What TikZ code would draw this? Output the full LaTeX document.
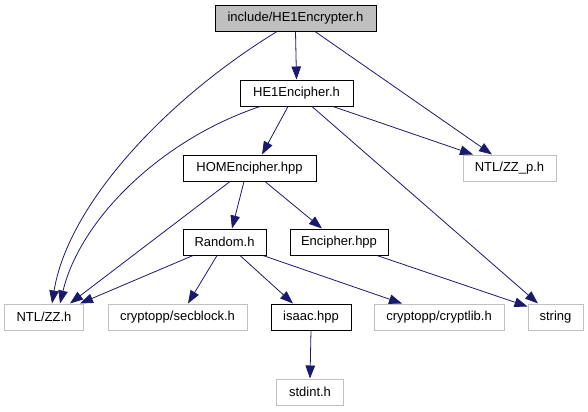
\documentclass[tikz,border=0pt]{standalone}
\usepackage{fontspec}
\setmainfont{Liberation Sans}
\usetikzlibrary{arrows.meta}
\definecolor{edgeblue}{HTML}{191970}
\definecolor{boxgrey}{HTML}{BFBFBF}
\tikzset{
  header/.style={draw=black, line width=1bp, fill=white, inner sep=0pt,
    minimum height=26bp, font=\fontsize{13bp}{15bp}\selectfont},
  current/.style={header, fill=boxgrey},
  sysheader/.style={header, draw=boxgrey},
  incl/.style={draw=edgeblue, line width=0.8bp,
    -{Triangle[length=13bp,width=9.5bp]}}
}
\begin{document}
\begin{tikzpicture}[x=1bp, y=-1bp]
    \useasboundingbox (0,0) rectangle (588,411);
    % row 1
    \node[current, minimum width=161bp] (enc) at (295.5,18) {include/HE1Encrypter.h};
    % row 2
    \node[header, minimum width=113bp] (encipher) at (296.5,93) {HE1Encipher.h};
    % row 3
    \node[header, minimum width=133bp] (hom) at (249.5,168) {HOMEncipher.hpp};
    \node[sysheader, minimum width=93bp] (zzp) at (509.5,168) {NTL/ZZ\_p.h};
    % row 4
    \node[header, minimum width=83bp] (random) at (224.5,242) {Random.h};
    \node[header, minimum width=98bp] (cipherhpp) at (339,242) {Encipher.hpp};
    % row 5
    \node[sysheader, minimum width=78bp] (zz) at (44,317) {NTL/ZZ.h};
    \node[sysheader, minimum width=139bp] (secblock) at (177.5,317) {cryptopp/secblock.h};
    \node[header, minimum width=80bp] (isaac) at (311,317) {isaac.hpp};
    \node[sysheader, minimum width=130bp] (cryptlib) at (439,317) {cryptopp/cryptlib.h};
    \node[sysheader, minimum width=55bp] (string) at (555.5,317) {string};
    % row 6
    \node[sysheader, minimum width=67bp] (stdint) at (310,392) {stdint.h};

    \draw[incl] (enc.south) -- (encipher.north);
    \draw[incl] ([xshift=-18.5bp]enc.south) .. controls (165,100) and (68,205) .. ([xshift=8bp]zz.north);
    \draw[incl] ([xshift=19.5bp]enc.south) -- ([xshift=-17.5bp]zzp.north);

    \draw[incl] ([xshift=-8.5bp]encipher.south) -- ([xshift=12.5bp]hom.north);
    \draw[incl] ([xshift=-36.5bp]encipher.south) .. controls (160,140) and (80,220) .. ([xshift=16bp]zz.north);
    \draw[incl] ([xshift=36.5bp]encipher.south) -- ([xshift=-36.5bp]zzp.north);
    \draw[incl] ([xshift=15.5bp]encipher.south) -- ([xshift=-17.5bp]string.north);

    \draw[incl] ([xshift=-5.5bp]hom.south) -- ([xshift=7.5bp]random.north);
    \draw[incl] ([xshift=15.5bp]hom.south) -- ([xshift=-17bp]cipherhpp.north);
    \draw[incl] ([xshift=-19.5bp]hom.south) -- ([xshift=26bp]zz.north);

    \draw[incl] ([xshift=-31.5bp]random.south) -- ([xshift=36bp]zz.north);
    \draw[incl] ([xshift=-7.5bp]random.south) -- ([xshift=10.5bp]secblock.north);
    \draw[incl] ([xshift=15.5bp]random.south) -- ([xshift=-18bp]isaac.north);
    \draw[incl] ([xshift=38.5bp]random.south) -- ([xshift=-37bp]cryptlib.north);

    \draw[incl] ([xshift=38bp]cipherhpp.south) -- ([yshift=-3bp]string.north west);
    \draw[incl] (isaac.south) -- (stdint.north);
\end{tikzpicture}
\end{document}
